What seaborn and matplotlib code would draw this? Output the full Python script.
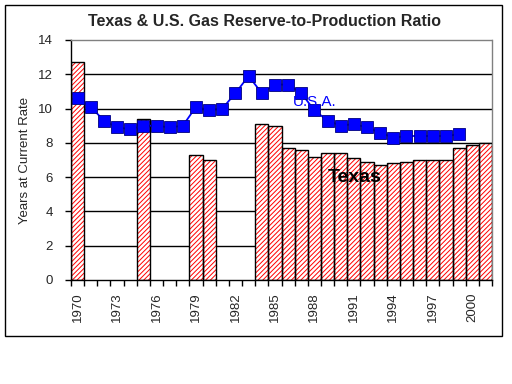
import numpy as np
import seaborn as sns
from matplotlib import pyplot as plt
from matplotlib.patches import Rectangle

years = [str(y) for y in range(1970, 2002)]
texas = [12.7, np.nan, np.nan, np.nan, np.nan, 9.4, np.nan, np.nan, np.nan, 7.3,
         7.0, np.nan, np.nan, np.nan, 9.1, 9.0, 7.7, 7.6, 7.2, 7.4,
         7.4, 7.1, 6.9, 6.7, 6.8, 6.9, 7.0, 7.0, 7.0, 7.7,
         7.9, 8.0]
usa = [10.6, 10.1, 9.3, 8.9, 8.8, 9.0, 9.0, 8.9, 9.0, 10.1,
       9.9, 10.0, 10.9, 11.9, 10.9, 11.4, 11.4, 10.9, 9.9, 9.3,
       9.0, 9.1, 8.9, 8.6, 8.3, 8.4, 8.4, 8.4, 8.4, 8.5,
       np.nan, np.nan]
yticks = list(range(0, 15, 2))
label_every = 3

sns.set_style("white")
plt.rcParams["font.family"] = ["Liberation Sans", "DejaVu Sans"]
plt.rcParams["hatch.linewidth"] = 0.7

fig = plt.figure(figsize=(5.12, 3.84), dpi=100)
ax = fig.add_axes([71 / 512, 1 - 280 / 384, 421 / 512, 240 / 384])

# hatched fill, then black outline on top
sns.barplot(x=years, y=texas, order=years, color="white", edgecolor="red",
            hatch="///////", linewidth=0, width=1, errorbar=None, ax=ax, zorder=2)
sns.barplot(x=years, y=texas, order=years, color="black", fill=False,
            linewidth=1, width=1, errorbar=None, ax=ax, zorder=3)

pos = np.arange(len(years))
sns.lineplot(x=pos, y=usa, color="#0000ff", linewidth=1.3, marker="s",
             markersize=8.5, markerfacecolor="#0000ff", markeredgecolor="#000080",
             markeredgewidth=0.6, ax=ax, zorder=4)

ax.set_xlim(-0.5, len(years) - 0.5)
ax.set_ylim(0, 14)
ax.set_yticks(yticks)
ax.set_yticklabels([str(t) for t in yticks], fontsize=9.5)
ax.set_xticks(pos[::label_every])
ax.set_xticklabels(years[::label_every], rotation=90, fontsize=9.5)
ax.set_xticks(np.arange(-0.5, len(years), 1), minor=True)
ax.tick_params(axis="x", which="major", length=0, pad=9)
ax.tick_params(axis="x", which="minor", length=4, width=1, color="black", bottom=True)
ax.tick_params(axis="y", length=4, width=1, color="black", left=True, pad=9)

ax.set_axisbelow(True)
ax.yaxis.grid(True, color="black", linewidth=1)
ax.xaxis.grid(False)
gl = ax.yaxis.get_gridlines()
gl[0].set_visible(False)
gl[-1].set_visible(False)

for side in ["left", "bottom"]:
    ax.spines[side].set_color("black")
    ax.spines[side].set_linewidth(1)
for side in ["top", "right"]:
    ax.spines[side].set_color("gray")
    ax.spines[side].set_linestyle((0, (1, 1)))
    ax.spines[side].set_linewidth(1)

ax.set_xlabel("")
ax.set_ylabel("Years at Current Rate", fontsize=9.5, labelpad=5)
ax.set_title("Texas & U.S. Gas Reserve-to-Production Ratio", fontsize=11.5,
             fontweight="bold", pad=10, x=0.46)

ax.text(18.0, 10.4, "U.S.A.", color="#0000ff", fontsize=11, ha="center", va="center", zorder=5)
ax.text(21.1, 5.95, "Texas", color="black", fontsize=14, fontweight="bold",
        ha="center", va="center", zorder=5)

fig.patches.append(Rectangle((5 / 512, 1 - 336 / 384), 497 / 512, 331 / 384,
                             transform=fig.transFigure, fill=False,
                             edgecolor="black", linewidth=1))

fig.savefig("out.png", dpi=100)
plt.close(fig)
